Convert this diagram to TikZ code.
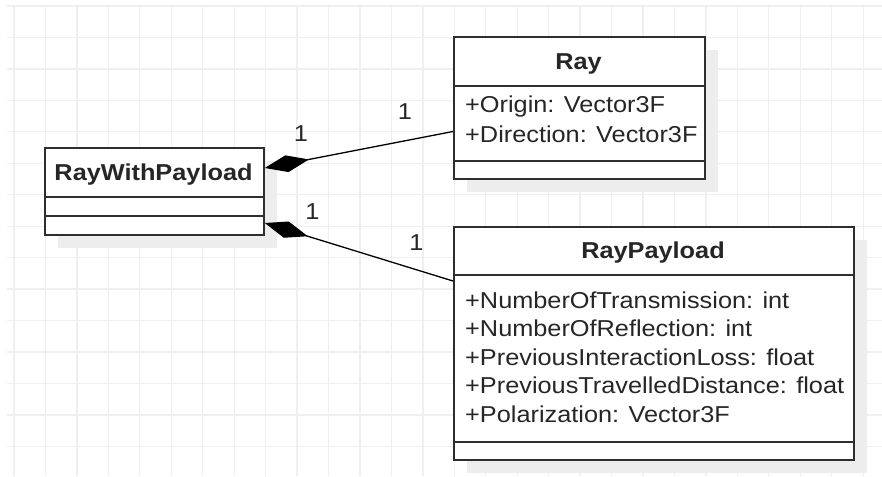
\documentclass[tikz,border=0pt]{standalone}
\usepackage{fontspec}
\setmainfont{Liberation Sans}[FakeStretch=1.10]
\usetikzlibrary{arrows.meta}
\definecolor{gridc}{HTML}{EFEFEF}
\definecolor{shadowc}{HTML}{EDEDED}
\definecolor{edgec}{HTML}{2E2E2E}
\definecolor{textc}{HTML}{262626}

\begin{document}
\begin{tikzpicture}[x=1pt,y=-1pt,
  gridline/.style={draw=gridc, line width=1.3pt},
  shadowbox/.style={fill=shadowc},
  umlbox/.style={draw=edgec, line width=1.8pt, fill=white, anchor=north west, inner sep=0pt},
  sepline/.style={draw=edgec, line width=1.6pt},
  title/.style={font=\fontsize{23}{28}\selectfont\bfseries, text=textc, anchor=base, inner sep=0pt},
  attr/.style={font=\fontsize{23}{28}\selectfont, text=textc, anchor=base west, inner sep=0pt},
  mult/.style={font=\fontsize{23}{28}\selectfont, text=textc, anchor=base, inner sep=0pt},
  composition/.style={line width=1.3pt, draw=black,
    {Diamond[length=45pt,width=17pt,fill=black]}-}]

% canvas and background grid
\useasboundingbox (0,0) rectangle (882,476);
\fill[white] (0,0) rectangle (882,476);
\foreach \i in {0,...,27}
  \draw[gridline] ({14+31.45*\i},6) -- ({14+31.45*\i},476);
\foreach \j in {0,...,14}
  \draw[gridline] (7,{6+31.45*\j}) -- (882,{6+31.45*\j});

% drop shadows
\fill[shadowbox] (58,161) rectangle (277,248);
\fill[shadowbox] (467,50) rectangle (718,192);
\fill[shadowbox] (467,240) rectangle (867,473);

% class RayWithPayload
\node[umlbox, minimum width=219pt, minimum height=87pt] (rwp) at (44,147) {};
\draw[sepline] (rwp.west |- 0,197) -- (rwp.east |- 0,197);
\draw[sepline] (rwp.west |- 0,216) -- (rwp.east |- 0,216);
\node[title] (rwpname) at (153.5,180) {RayWithPayload};

% class Ray
\node[umlbox, minimum width=251pt, minimum height=142pt] (ray) at (453,36) {};
\draw[sepline] (ray.west |- 0,86) -- (ray.east |- 0,86);
\draw[sepline] (ray.west |- 0,161) -- (ray.east |- 0,161);
\node[title] (rayname) at (578.5,69.3) {Ray};
\node[attr] (ray1) at (465,113) {+Origin: Vector3F};
\node[attr] (ray2) at (465,142) {+Direction: Vector3F};

% class RayPayload
\node[umlbox, minimum width=400pt, minimum height=233pt] (rp) at (453,226) {};
\draw[sepline] (rp.west |- 0,275) -- (rp.east |- 0,275);
\draw[sepline] (rp.west |- 0,442) -- (rp.east |- 0,442);
\node[title] (rpname) at (653,258.5) {RayPayload};
\node[attr] (rp1) at (465,308) {+NumberOfTransmission: int};
\node[attr] (rp2) at (465,336.5) {+NumberOfReflection: int};
\node[attr] (rp3) at (465,365) {+PreviousInteractionLoss: float};
\node[attr] (rp4) at (465,393.5) {+PreviousTravelledDistance: float};
\node[attr] (rp5) at (465,422) {+Polarization: Vector3F};

% compositions
\draw[composition] ([yshift=-21pt]rwp.north east) -- ([yshift=-95.5pt]ray.north west);
\draw[composition] ([yshift=-76pt]rwp.north east) -- ([yshift=-55pt]rp.north west);

% multiplicities
\node[mult] (m1) at (301,141.5) {1};
\node[mult] (m2) at (405,120) {1};
\node[mult] (m3) at (312.5,219) {1};
\node[mult] (m4) at (416.5,250.5) {1};
\end{tikzpicture}
\end{document}
